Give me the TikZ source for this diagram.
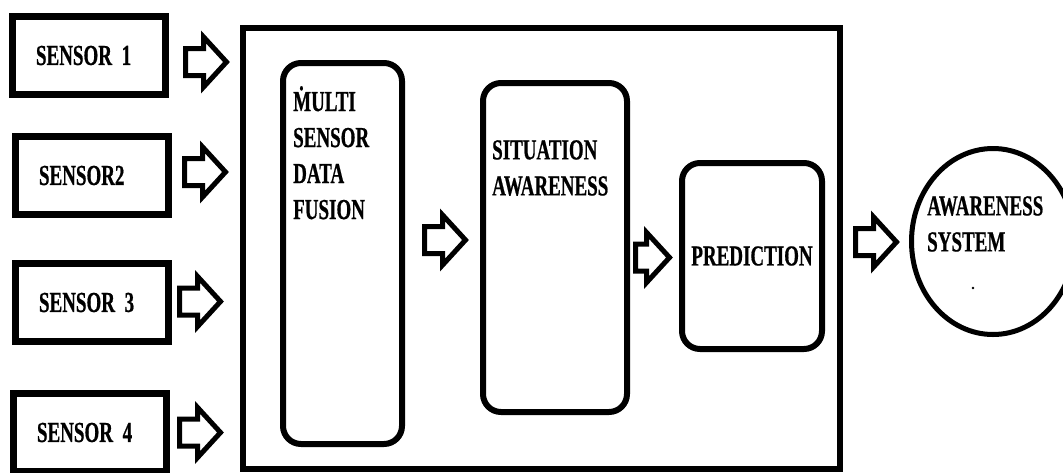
\documentclass[tikz,border=0pt]{standalone}
\usepackage{fontspec}
\setmainfont{Liberation Serif}[FakeStretch=0.655, WordSpace=0.5, FakeBold=0.6]
\usetikzlibrary{shapes.arrows,shapes.geometric}
\usetikzlibrary{positioning}

\begin{document}
\begin{tikzpicture}[
x=1pt, y=1pt,
font=\fontsize{29pt}{36pt}\selectfont\bfseries,
sensbox/.style={rectangle, draw, line width=7pt, minimum width=153pt, minimum height=78pt, text width=106pt, inner xsep=23.5pt, align=left},
roundbox/.style={rectangle, draw, line width=6pt, rounded corners=18pt},
blockarrow/.style={single arrow, draw, line width=5pt, inner xsep=0pt, inner ysep=11pt, single arrow head extend=11.5pt, single arrow tip angle=95, minimum height=41pt},
boxtext/.style={align=left, inner sep=0pt},
]
\useasboundingbox (0,0) rectangle (1063,-472);

\node[sensbox] (sens1) at (89,-55.5) {SENSOR 1};
\node[sensbox] (sens2) [below=35pt of sens1, xshift=3pt] {SENSOR2};
\node[sensbox] (sens3) [below=42pt of sens2] {SENSOR 3};
\node[sensbox] (sens4) [below=45pt of sens3, xshift=-2pt] {SENSOR 4};

\node[blockarrow] (in1) [right=14pt of sens1, yshift=-6.5pt] {};
\node[blockarrow] (in2) [right=10pt of sens2, yshift=3.5pt] {};
\node[blockarrow] (in3) [right=5pt of sens3, yshift=1pt] {};
\node[blockarrow] (in4) [right=7pt of sens4] {};

\node[draw, line width=6pt, minimum width=597pt, minimum height=441pt] (core) at (541.5,-248.5) {};
\node[roundbox, minimum width=119pt, minimum height=381pt] (fusion) at (342.5,-253.5) {};
\node[roundbox, minimum width=144pt, minimum height=329pt] (aware) at (555,-247.5) {};
\node[roundbox, minimum width=140pt, minimum height=186pt] (predict) at (752,-256) {PREDICTION};
\node[ellipse, draw, line width=5pt, minimum width=163pt, minimum height=186pt] (system) at (993,-241.5) {};

\node[boxtext] (fusiontext) [below right=26pt and 13pt of fusion.north west] {\.{M}ULTI\\SENSOR\\DATA\\FUSION};
\node[boxtext] (awaretext) [below right=60pt and 12pt of aware.north west] {SITUATION\\AWARENESS};
\node[boxtext, anchor=north west] (systemtext) at (927,-196) {AWARENESS\\SYSTEM};
\fill (973,-288) circle (1.3pt);

\node[blockarrow] (fuse2aware) [right=17pt of fusion, yshift=13.5pt] {};
\node[blockarrow, minimum height=34pt] (aware2pred) [right=3pt of aware, yshift=-10pt] {};
\node[blockarrow] (core2sys) [right=10pt of core, yshift=6.5pt] {};
\end{tikzpicture}
\end{document}
